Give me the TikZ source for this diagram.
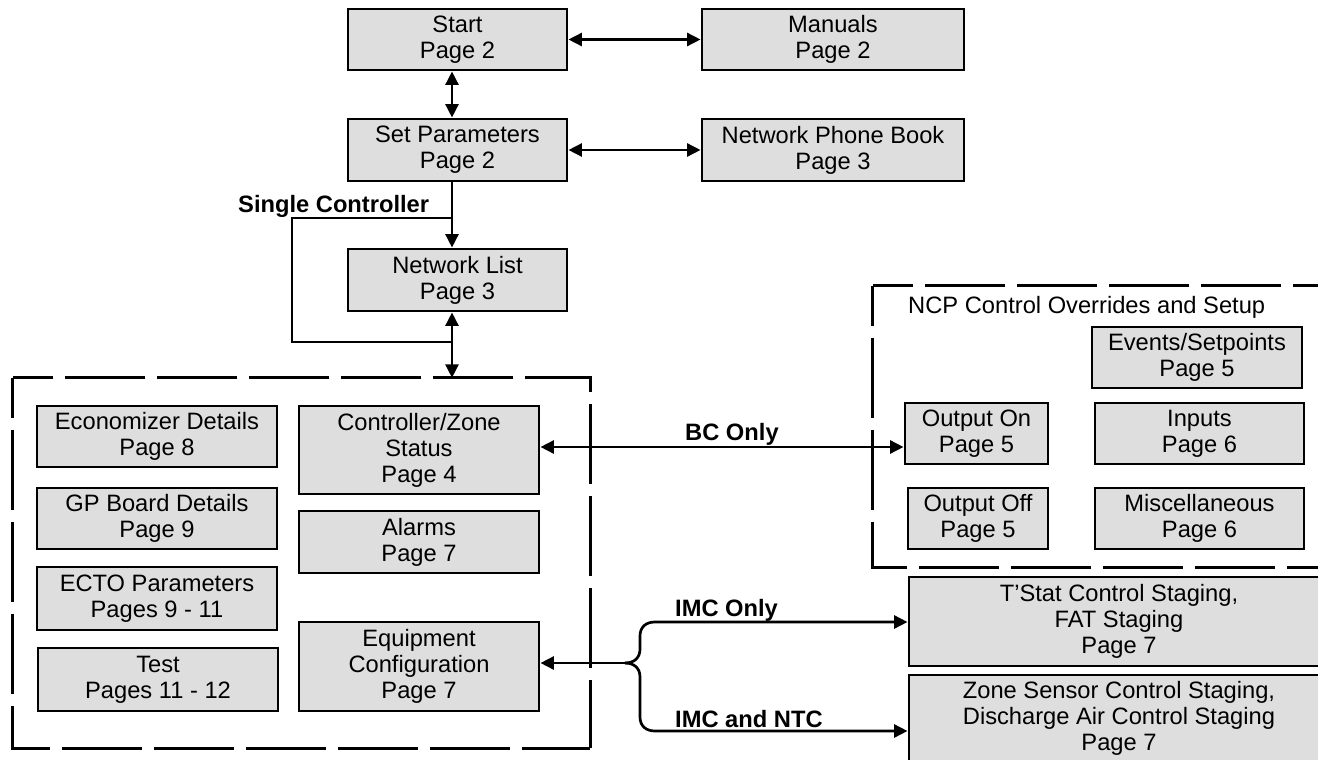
\documentclass[tikz,border=0pt]{standalone}
\usepackage{fontspec}
\setmainfont{Liberation Sans}
\usetikzlibrary{arrows.meta}
\definecolor{boxfill}{RGB}{222,222,222}
\begin{document}
\begin{tikzpicture}[x=1pt,y=-1pt,
  box/.style={draw=black, fill=boxfill, line width=2.9pt, inner sep=0pt, align=center,
    font=\fontsize{23.7}{26}\selectfont},
  conn/.style={line width=2.7pt},
  fwd/.style={-{Triangle[length=13.5pt,width=13pt]}},
  dbl/.style={{Triangle[length=13.5pt,width=13pt]}-{Triangle[length=13.5pt,width=13pt]}},
  grpnode/.style={draw=none, inner sep=0pt},
  dashln/.style={draw=black, line width=3pt, dash pattern=on 80pt off 12pt, dash phase=40pt},
  lbl/.style={font=\bfseries\fontsize{23.7}{26}\selectfont, inner sep=0pt},
  ttl/.style={font=\fontsize{23.7}{26}\selectfont, inner sep=0pt},
]
\useasboundingbox (0,0) rectangle (1318,760);
\fill[white] (0,0) rectangle (1318,760);
\clip (0,0) rectangle (1318,760);

% groups
\node[grpnode, minimum width=577pt, minimum height=370pt] (grpL) at (301.5,563) {};
\node[grpnode, minimum width=462pt, minimum height=281pt] (grpR) at (1104,426.5) {};
\draw[dashln] (grpL.north west) -- (grpL.north east) -- (grpL.south east);
\draw[dashln] (grpL.north west) -- (grpL.south west) -- (grpL.south east);
\draw[dashln] (grpR.north west) -- (grpR.north east) -- (grpR.south east);
\draw[dashln] (grpR.north west) -- (grpR.south west) -- (grpR.south east);
\node[ttl, anchor=base west] (ncpttl) at (908,313) {NCP Control Overrides and Setup};

% top column
\node[box, minimum width=219pt, minimum height=61pt] (start) at (457.5,39.5) {Start\\Page 2};
\node[box, minimum width=262pt, minimum height=61pt] (manuals) at (833,39.5) {Manuals\\Page 2};
\node[box, minimum width=219pt, minimum height=62pt] (setp) at (457.5,150) {Set Parameters\\Page 2};
\node[box, minimum width=262pt, minimum height=62pt] (phone) at (833,150) {Network Phone Book\\Page 3};
\node[box, minimum width=219pt, minimum height=62pt] (netlist) at (457.5,280) {Network List\\Page 3};

% left group
\node[box, minimum width=240pt, minimum height=61pt] (econ) at (157,436.5) {Economizer Details\\Page 8};
\node[box, minimum width=240pt, minimum height=61pt] (gp) at (157,518.5) {GP Board Details\\Page 9};
\node[box, minimum width=240pt, minimum height=63pt] (ecto) at (157,598.5) {ECTO Parameters\\Pages 9 - 11};
\node[box, minimum width=240pt, minimum height=63pt] (test) at (158,679.5) {Test\\Pages 11 - 12};
\node[box, minimum width=240pt, minimum height=88pt] (ctrl) at (419,450) {Controller/Zone\\Status\\Page 4};
\node[box, minimum width=240pt, minimum height=62pt] (alarms) at (419,542) {Alarms\\Page 7};
\node[box, minimum width=240pt, minimum height=89pt] (equip) at (419,666.5) {Equipment\\Configuration\\Page 7};

% right group
\node[box, minimum width=210pt, minimum height=61pt] (events) at (1197,357.5) {Events/Setpoints\\Page 5};
\node[box, minimum width=143pt, minimum height=61pt] (outon) at (976.5,433.5) {Output On\\Page 5};
\node[box, minimum width=209pt, minimum height=61pt] (inputs) at (1199.5,433.5) {Inputs\\Page 6};
\node[box, minimum width=140pt, minimum height=61pt] (outoff) at (978,518.5) {Output Off\\Page 5};
\node[box, minimum width=209pt, minimum height=61pt] (misc) at (1199.5,518.5) {Miscellaneous\\Page 6};

% staging boxes
\node[box, minimum width=420pt, minimum height=89pt] (tstat) at (1119,621.5) {T’Stat Control Staging,\\FAT Staging\\Page 7};
\node[box, minimum width=420pt, minimum height=87pt] (zone) at (1119,718.5) {Zone Sensor Control Staging,\\Discharge Air Control Staging\\Page 7};

% connectors top
\coordinate (vx) at (452,0);
\draw[conn,dbl] (start.east) -- (manuals.west);
\draw[conn,dbl] (setp.east) -- (phone.west);
\draw[conn,dbl] (start.south -| vx) -- (setp.north -| vx);
\draw[conn,fwd] (setp.south -| vx) -- (netlist.north -| vx);
\coordinate (l1) at (452,218);
\coordinate (l2) at (292,218);
\coordinate (l3) at (292,342);
\coordinate (l4) at (452,342);
\draw[conn] (l1) -- (l2) -- (l3) -- (l4);
\draw[conn,dbl] (netlist.south -| vx) -- (grpL.north -| vx);
\node[lbl, anchor=base west] (single) at (238,212) {Single Controller};

% BC only
\coordinate (bcy) at (0,447);
\draw[conn,dbl] (ctrl.east |- bcy) -- (outon.west |- bcy);
\node[lbl, anchor=base west] (bclbl) at (685,440) {BC Only};

% IMC brace
\coordinate (J) at (625,663);
\coordinate (ty) at (0,622);
\coordinate (zy) at (0,731);
\draw[conn,fwd] (J) -- (equip.east |- J);
\draw[conn,fwd] (J) .. controls (634,663) and (640,658) .. (640,649) -- (640,636)
  .. controls (640,627) and (646,622) .. (655,622) -- (tstat.west |- ty);
\draw[conn,fwd] (J) .. controls (634,663) and (640,668) .. (640,677) -- (640,717)
  .. controls (640,726) and (646,731) .. (655,731) -- (zone.west |- zy);
\node[lbl, anchor=base west] (imc1) at (675,616) {IMC Only};
\node[lbl, anchor=base west] (imc2) at (675,727) {IMC and NTC};
\end{tikzpicture}
\end{document}
